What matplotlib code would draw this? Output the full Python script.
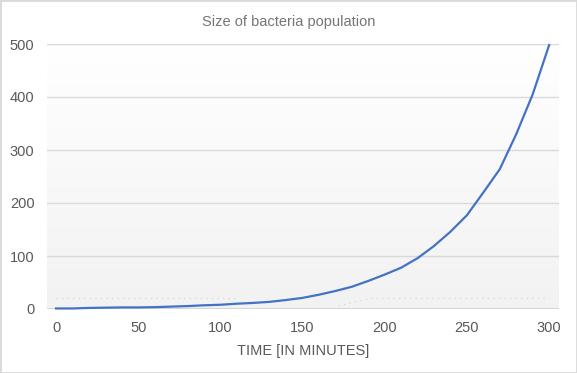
import matplotlib
matplotlib.use('Agg')
import matplotlib.pyplot as plt
import numpy as np

plt.rcParams['font.family'] = ['Liberation Sans', 'DejaVu Sans']

# data (population every 10 minutes)
minutes = list(range(0, 301, 10))
population = [1, 1, 2, 2.5, 3, 3, 3.5, 4.5, 5.5, 7, 8, 10, 11.5, 13.5, 17, 21,
              27, 34, 42, 53, 65, 78, 96, 119, 146, 177, 220, 264, 330, 405, 498]

# faint dotted guide lines seen in the background
guide1_x = [0, 110]
guide1_y = [20, 20]
guide2_x = [172, 192, 300]
guide2_y = [6, 20, 20]

yticks = [0, 100, 200, 300, 400, 500]
xticks = [0, 50, 100, 150, 200, 250, 300]

fig = plt.figure(figsize=(5.77, 3.73), dpi=100)
ax = fig.add_axes([47/577, 64/373, 512/577, 265/373])

# vertical gradient background (white at top, light gray at bottom)
grad = np.linspace(1, 0, 256).reshape(-1, 1)
ax.imshow(grad, extent=[0, 1, 0, 1], transform=ax.transAxes, aspect='auto',
          cmap=matplotlib.colors.LinearSegmentedColormap.from_list('bg', ['#f2f2f2', '#ffffff']),
          zorder=0)

for y in yticks[1:]:
    ax.axhline(y, color='#d9d9d9', lw=1, zorder=1)
ax.axhline(0, color='#d0d0d0', lw=1.2, zorder=1)

ax.plot(guide1_x, guide1_y, color='#cfcfcf', lw=0.8, ls=(0, (1, 4)), zorder=2)
ax.plot(guide2_x, guide2_y, color='#cfcfcf', lw=0.8, ls=(0, (1, 4)), zorder=2)

ax.plot(minutes, population, color='#4472c4', lw=1.6, zorder=3, clip_on=False)

ax.set_xlim(-5.5, 306)
ax.set_ylim(0, 500)
ax.set_xticks(xticks)
ax.set_yticks(yticks)
ax.tick_params(length=0, labelsize=10.5, labelcolor='#595959', pad=9)
for s in ax.spines.values():
    s.set_visible(False)

ax.set_xlabel('TIME [IN MINUTES]', fontsize=10.5, color='#595959', labelpad=6)
fig.text(0.5, 1 - 22/373, 'Size of bacteria population', ha='center', va='center',
         fontsize=10.5, color='#757575')

fig.patches.append(plt.Rectangle((0, 0), 1, 1, transform=fig.transFigure,
                                 fill=False, edgecolor='#d9d9d9', lw=2))

fig.savefig('out.png', dpi=100)
